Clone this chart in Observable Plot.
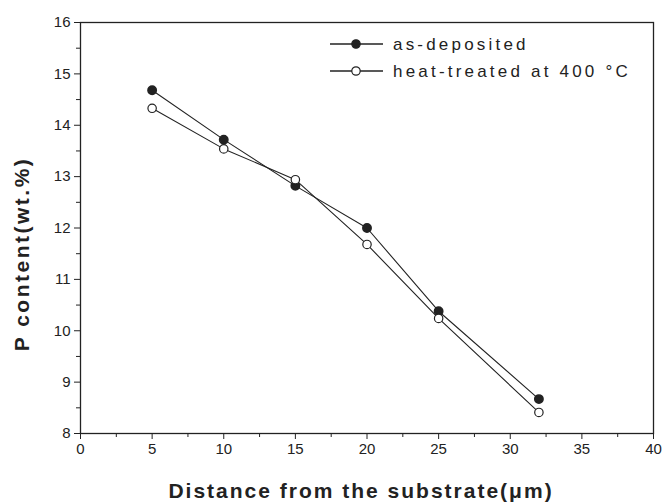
<!DOCTYPE html>
<html><head><meta charset="utf-8">
<script src="https://cdn.jsdelivr.net/npm/d3@7"></script>
<script src="https://cdn.jsdelivr.net/npm/@observablehq/plot@0.6"></script>
<style>body{margin:0;background:#fff}</style>
</head><body><div id="chart"></div>
<script>
const distance = [5, 10, 15, 20, 25, 32];
const asDeposited = [14.68, 13.72, 12.82, 12.0, 10.38, 8.67];
const heatTreated = [14.33, 13.54, 12.94, 11.68, 10.24, 8.41];
const seriesNames = ["as-deposited", "heat-treated at 400 \u00B0C"];
const xTicks = [0, 5, 10, 15, 20, 25, 30, 35, 40];
const yTicks = [8, 9, 10, 11, 12, 13, 14, 15, 16];
const xMinor = [2.5, 7.5, 12.5, 17.5, 22.5, 27.5, 32.5, 37.5];
const yMinor = [8.5, 9.5, 10.5, 11.5, 12.5, 13.5, 14.5, 15.5];
const xTitle = "Distance from the substrate(\u03BCm)";
const yTitle = "P content(wt.%)";

const data = [
  ...distance.map((d, i) => ({x: d, y: asDeposited[i], s: seriesNames[0]})),
  ...distance.map((d, i) => ({x: d, y: heatTreated[i], s: seriesNames[1]}))
];
const A = data.filter(d => d.s === seriesNames[0]);
const H = data.filter(d => d.s === seriesNames[1]);

const plot = Plot.plot({
  width: 663, height: 502,
  marginLeft: 80, marginRight: 10, marginTop: 22, marginBottom: 69,
  style: {fontFamily: "Liberation Sans, Arial, sans-serif", fontSize: "14px", color: "#222", background: "#fff"},
  x: {domain: [0, 40]},
  y: {domain: [8, 16]},
  marks: [
    Plot.frame({stroke: "#222", strokeWidth: 1.3}),
    Plot.axisX(xTicks, {tickSize: 6, tickPadding: 4, label: null, fontSize: 15, tickFormat: d3.format("d")}),
    Plot.axisY(yTicks, {tickSize: 6, tickPadding: 4, label: null, fontSize: 15, tickFormat: d3.format("d")}),
    Plot.axisX(xMinor, {tickSize: 4, tickFormat: () => "", label: null}),
    Plot.axisY(yMinor, {tickSize: 4, tickFormat: () => "", label: null}),
    Plot.line(A, {x: "x", y: "y", stroke: "#222", strokeWidth: 1.1}),
    Plot.line(H, {x: "x", y: "y", stroke: "#222", strokeWidth: 1.1}),
    Plot.dot(A, {x: "x", y: "y", r: 4.2, fill: "#222", stroke: "#222"}),
    Plot.dot(H, {x: "x", y: "y", r: 4.2, fill: "#fff", stroke: "#222", strokeWidth: 1.2}),
    Plot.text([xTitle], {frameAnchor: "bottom", dx: -6, dy: 64, fontSize: 21, fontWeight: "bold", lineAnchor: "bottom", fill: "#222"})
  ]
});
document.getElementById("chart").appendChild(plot);
const svg = d3.select(plot);
svg.selectAll("text").filter(function(){ return this.textContent === xTitle; }).attr("letter-spacing", 2);

// y title
svg.append("text").attr("transform", "translate(29,254) rotate(-90)")
  .attr("text-anchor", "middle").attr("font-size", 21).attr("font-weight", "bold")
  .attr("letter-spacing", 2.5).attr("fill", "#222")
  .attr("font-family", "Liberation Sans, Arial, sans-serif").text(yTitle);

// legend
const leg = svg.append("g").attr("text-anchor", "start");
const rows = [
  {name: seriesNames[0], fill: "#222", y: 44},
  {name: seriesNames[1], fill: "#fff", y: 71}
];
rows.forEach(r => {
  leg.append("line").attr("x1", 330).attr("x2", 383).attr("y1", r.y).attr("y2", r.y)
    .attr("stroke", "#222").attr("stroke-width", 1.3);
  leg.append("circle").attr("cx", 356).attr("cy", r.y).attr("r", 4.2)
    .attr("fill", r.fill).attr("stroke", "#222").attr("stroke-width", 1.2);
  leg.append("text").attr("x", 393).attr("y", r.y + 6).text(r.name)
    .attr("font-size", 17).attr("letter-spacing", 3.2).attr("fill", "#222")
    .attr("text-anchor", "start")
    .attr("font-family", "Liberation Sans, Arial, sans-serif");
});
</script></body></html>
